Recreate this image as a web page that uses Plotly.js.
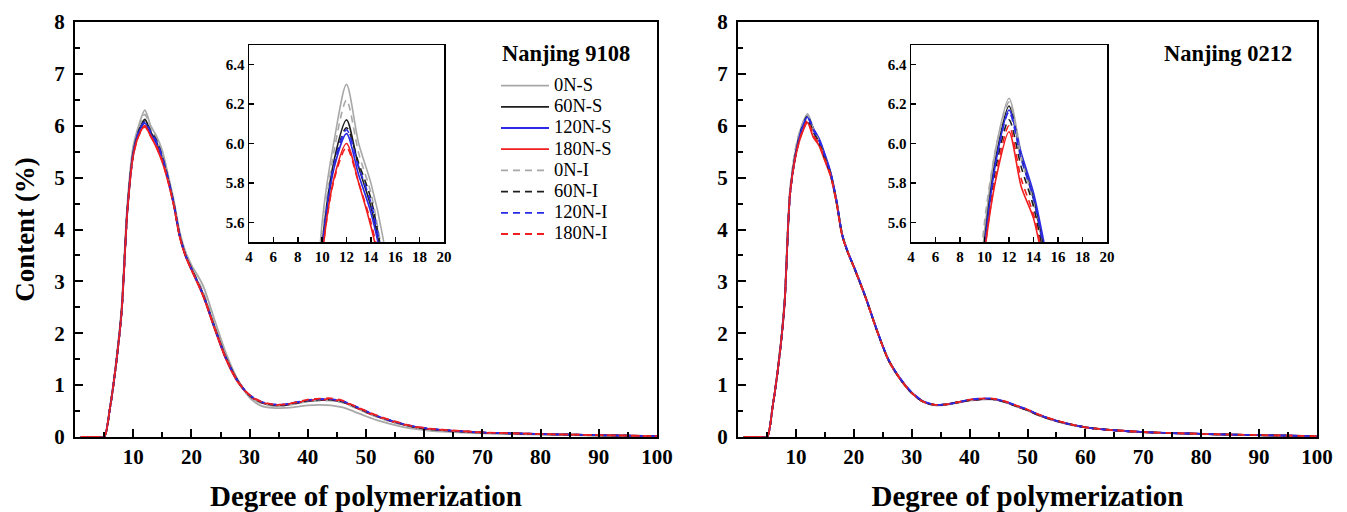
<!DOCTYPE html>
<html>
<head>
<meta charset="utf-8">
<script src="https://cdn.plot.ly/plotly-3.0.1.min.js"></script>
<style>html,body{margin:0;padding:0;background:#fff;}#chart{width:1347px;height:512px;}</style>
</head>
<body>
<div id="chart"></div>
<script>
// Degree of polymerization (shared x grid)
const DP = [1,2,3,4,5,6,7,8,9,10,11,12,13,14,15,16,17,18,19,20,22,24,26,28,30,32,34,36,38,40,42,44,46,48,50,52,55,58,61,65,70,75,80,85,90,95,100];

const seriesNames = ["0N-S","60N-S","120N-S","180N-S","0N-I","60N-I","120N-I","180N-I"];
const panelTitles = ["Nanjing 9108", "Nanjing 0212"];

// Nanjing 9108 (left panel)
const NJ9108_0NS   = [0,0,0,0,0,0.58,1.4,2.5,4.5,5.6,6.02,6.3,6.0,5.8,5.52,5.05,4.55,3.95,3.57,3.32,2.92,2.25,1.6,1.1,0.76,0.6,0.56,0.56,0.58,0.61,0.62,0.61,0.57,0.49,0.4,0.32,0.23,0.16,0.12,0.095,0.07,0.057,0.046,0.037,0.028,0.019,0.01];
const NJ9108_60NS  = [0,0,0,0,0,0.55,1.35,2.42,4.38,5.48,5.92,6.12,5.88,5.68,5.38,4.97,4.48,3.88,3.5,3.25,2.76,2.12,1.52,1.08,0.8,0.66,0.61,0.61,0.65,0.69,0.71,0.71,0.67,0.58,0.48,0.39,0.28,0.2,0.15,0.115,0.083,0.068,0.055,0.044,0.034,0.024,0.014];
const NJ9108_120NS = [0,0,0,0,0,0.55,1.35,2.4,4.36,5.45,5.88,6.05,5.84,5.65,5.37,4.96,4.47,3.87,3.5,3.24,2.74,2.1,1.5,1.07,0.8,0.67,0.62,0.62,0.66,0.7,0.72,0.72,0.68,0.59,0.49,0.4,0.29,0.2,0.15,0.12,0.085,0.07,0.057,0.045,0.035,0.025,0.015];
const NJ9108_180NS = [0,0,0,0,0,0.55,1.35,2.4,4.35,5.42,5.83,6.0,5.8,5.58,5.3,4.92,4.45,3.85,3.48,3.22,2.72,2.08,1.48,1.05,0.8,0.67,0.62,0.62,0.66,0.7,0.72,0.72,0.68,0.58,0.48,0.39,0.28,0.2,0.15,0.12,0.085,0.07,0.057,0.045,0.035,0.025,0.015];
const NJ9108_0NI   = [0,0,0,0,0,0.56,1.37,2.45,4.42,5.52,5.97,6.22,5.95,5.75,5.42,5.0,4.5,3.9,3.52,3.27,2.8,2.15,1.53,1.08,0.79,0.65,0.6,0.6,0.64,0.68,0.7,0.7,0.66,0.57,0.47,0.38,0.27,0.19,0.14,0.11,0.08,0.065,0.053,0.042,0.032,0.022,0.013];
const NJ9108_60NI  = [0,0,0,0,0,0.55,1.35,2.42,4.37,5.47,5.9,6.08,5.9,5.72,5.4,4.98,4.48,3.88,3.5,3.25,2.75,2.11,1.51,1.07,0.8,0.67,0.62,0.62,0.66,0.7,0.72,0.72,0.68,0.59,0.49,0.4,0.29,0.2,0.15,0.12,0.085,0.07,0.056,0.045,0.035,0.025,0.015];
const NJ9108_120NI = [0,0,0,0,0,0.55,1.35,2.4,4.36,5.47,5.9,6.07,5.88,5.7,5.4,4.98,4.48,3.88,3.5,3.24,2.74,2.1,1.5,1.07,0.81,0.68,0.63,0.63,0.67,0.71,0.73,0.73,0.69,0.6,0.5,0.4,0.29,0.21,0.16,0.12,0.088,0.071,0.057,0.046,0.035,0.025,0.015];
const NJ9108_180NI = [0,0,0,0,0,0.55,1.35,2.4,4.35,5.43,5.82,5.98,5.8,5.6,5.32,4.93,4.45,3.86,3.49,3.23,2.73,2.1,1.5,1.07,0.81,0.68,0.63,0.63,0.67,0.72,0.74,0.745,0.7,0.6,0.5,0.41,0.3,0.21,0.16,0.125,0.09,0.072,0.058,0.047,0.036,0.026,0.016];

// Nanjing 0212 (right panel)
const NJ0212_0NS   = [0,0,0,0,0,0.6,1.42,2.55,4.75,5.55,6.0,6.23,5.95,5.72,5.4,5.08,4.56,3.9,3.55,3.28,2.71,2.06,1.49,1.12,0.85,0.68,0.61,0.62,0.66,0.7,0.72,0.72,0.67,0.59,0.51,0.41,0.3,0.22,0.17,0.13,0.093,0.073,0.058,0.045,0.034,0.024,0.014];
const NJ0212_60NS  = [0,0,0,0,0,0.6,1.41,2.52,4.72,5.5,5.95,6.19,5.93,5.72,5.42,5.08,4.55,3.9,3.55,3.28,2.7,2.05,1.48,1.12,0.85,0.68,0.62,0.63,0.67,0.71,0.73,0.73,0.68,0.6,0.52,0.42,0.31,0.23,0.17,0.13,0.095,0.075,0.06,0.046,0.035,0.025,0.015];
const NJ0212_120NS = [0,0,0,0,0,0.6,1.4,2.5,4.7,5.47,5.93,6.17,5.95,5.75,5.45,5.1,4.57,3.9,3.56,3.29,2.71,2.06,1.49,1.13,0.86,0.69,0.62,0.63,0.67,0.71,0.73,0.73,0.68,0.6,0.52,0.42,0.31,0.23,0.17,0.13,0.095,0.075,0.06,0.046,0.035,0.025,0.015];
const NJ0212_180NS = [0,0,0,0,0,0.6,1.4,2.5,4.7,5.44,5.84,6.06,5.78,5.62,5.33,5.03,4.52,3.88,3.55,3.28,2.7,2.05,1.48,1.12,0.85,0.68,0.62,0.63,0.67,0.71,0.73,0.73,0.68,0.6,0.52,0.42,0.31,0.23,0.17,0.13,0.095,0.075,0.06,0.046,0.035,0.025,0.015];
const NJ0212_0NI   = [0,0,0,0,0,0.62,1.45,2.6,4.8,5.6,6.0,6.21,5.93,5.7,5.38,5.06,4.55,3.9,3.55,3.28,2.7,2.05,1.48,1.12,0.85,0.68,0.62,0.63,0.67,0.71,0.73,0.73,0.68,0.6,0.52,0.42,0.31,0.23,0.17,0.13,0.095,0.075,0.06,0.046,0.035,0.025,0.015];
const NJ0212_60NI  = [0,0,0,0,0,0.6,1.4,2.5,4.7,5.48,5.9,6.12,5.88,5.68,5.38,5.06,4.54,3.89,3.55,3.28,2.7,2.05,1.48,1.12,0.85,0.68,0.62,0.63,0.67,0.71,0.73,0.73,0.68,0.6,0.52,0.42,0.31,0.23,0.17,0.13,0.095,0.075,0.06,0.046,0.035,0.025,0.015];
const NJ0212_120NI = [0,0,0,0,0,0.6,1.4,2.5,4.7,5.48,5.93,6.16,5.92,5.72,5.42,5.08,4.56,3.9,3.56,3.29,2.71,2.06,1.49,1.13,0.86,0.69,0.62,0.63,0.67,0.72,0.74,0.74,0.69,0.61,0.53,0.43,0.31,0.23,0.17,0.13,0.096,0.076,0.06,0.047,0.036,0.025,0.015];
const NJ0212_180NI = [0,0,0,0,0,0.6,1.4,2.5,4.7,5.45,5.86,6.09,5.82,5.64,5.35,5.04,4.53,3.88,3.55,3.28,2.7,2.05,1.48,1.12,0.85,0.68,0.62,0.63,0.67,0.72,0.74,0.74,0.69,0.61,0.53,0.43,0.32,0.23,0.17,0.13,0.096,0.076,0.061,0.047,0.036,0.026,0.016];

const left  = [NJ9108_0NS, NJ9108_60NS, NJ9108_120NS, NJ9108_180NS, NJ9108_0NI, NJ9108_60NI, NJ9108_120NI, NJ9108_180NI];
const right = [NJ0212_0NS, NJ0212_60NS, NJ0212_120NS, NJ0212_180NS, NJ0212_0NI, NJ0212_60NI, NJ0212_120NI, NJ0212_180NI];

const colors = ["#a8a8a8","#1e1e1e","#2a2ae6","#f01e1e","#a8a8a8","#1e1e1e","#2a2ae6","#f01e1e"];
const dashes = ["solid","solid","solid","solid","7px,5px","7px,5px","7px,5px","7px,5px"];

const SERIF = "Liberation Serif, Times New Roman, serif";
const traces = [];
function addSet(data, xa, ya, legend, width) {
  data.forEach((ys, i) => {
    traces.push({
      x: DP, y: ys, type: "scatter", mode: "lines",
      name: '<span style="font-size:18.5px">' + seriesNames[i] + '</span>',
      xaxis: xa, yaxis: ya,
      showlegend: legend,
      line: {color: colors[i], dash: dashes[i], width: width, shape: "spline", smoothing: 0.8},
      hoverinfo: "skip"
    });
  });
}
addSet(left, "x", "y", true, 1.8);
addSet(left, "x3", "y3", false, 1.6);
addSet(right, "x2", "y2", false, 1.8);
addSet(right, "x4", "y4", false, 1.6);

const tickFontMain = {family: SERIF, size: 21, color: "#000", weight: "bold"};
const tickFontInset = {family: SERIF, size: 15, color: "#000", weight: "bold"};

function mainX(domain, anchor) {
  return {
    domain: domain, anchor: anchor, range: [0, 100],
    tickmode: "array", tickvals: [10,20,30,40,50,60,70,80,90,100],
    ticks: "inside", ticklen: 8, tickwidth: 2, tickcolor: "#000",
    minor: {tickmode: "linear", tick0: 0, dtick: 5, ticks: "inside", ticklen: 5, tickwidth: 2, tickcolor: "#000"},
    showline: true, linewidth: 2, linecolor: "#000", mirror: true,
    showgrid: false, zeroline: false, tickfont: tickFontMain,
    title: {text: "<b>Degree of polymerization</b>", font: {family: SERIF, size: 29, color: "#000"}, standoff: 17}
  };
}
function mainY(domain, anchor, title) {
  const ax = {
    domain: domain, anchor: anchor, range: [0, 8],
    tickmode: "linear", tick0: 0, dtick: 1,
    ticks: "inside", ticklen: 8, tickwidth: 2, tickcolor: "#000",
    minor: {tickmode: "linear", tick0: 0, dtick: 0.5, ticks: "inside", ticklen: 5, tickwidth: 2, tickcolor: "#000"},
    showline: true, linewidth: 2, linecolor: "#000", mirror: true,
    showgrid: false, zeroline: false, tickfont: tickFontMain, ticklabelstandoff: 4
  };
  if (title) ax.title = {text: "<b>" + title + "</b>", font: {family: SERIF, size: 27, color: "#000"}, standoff: 12};
  return ax;
}
function insetX(domain, anchor) {
  return {
    domain: domain, anchor: anchor, range: [4, 20],
    tickmode: "linear", tick0: 4, dtick: 2,
    ticks: "inside", ticklen: 5, tickwidth: 1.5, tickcolor: "#000",
    showline: true, linewidth: 1.5, linecolor: "#000", mirror: true,
    showgrid: false, zeroline: false, tickfont: tickFontInset
  };
}
function insetY(domain, anchor) {
  return {
    domain: domain, anchor: anchor, range: [5.5, 6.5],
    tickmode: "array", tickvals: [5.6, 5.8, 6.0, 6.2, 6.4], tickformat: ".1f",
    ticks: "inside", ticklen: 5, tickwidth: 1.5, tickcolor: "#000",
    showline: true, linewidth: 1.5, linecolor: "#000", mirror: true,
    showgrid: false, zeroline: false, tickfont: tickFontInset
  };
}

const W = 1347, H = 512;
const fx = p => p / W;
const fy = p => (H - p) / H;

function panelTitle(text, xc) {
  return {
    text: "<b>" + text + "</b>", xref: "paper", yref: "paper",
    x: fx(xc), y: fy(53), xanchor: "center", yanchor: "middle",
    showarrow: false, font: {family: SERIF, size: 22.5, color: "#000"}
  };
}

const layout = {
  width: W, height: H,
  margin: {l: 0, r: 0, t: 0, b: 0},
  paper_bgcolor: "#fff", plot_bgcolor: "rgba(0,0,0,0)",
  font: {family: SERIF, color: "#000"},
  xaxis:  mainX([fx(75), fx(657)], "y"),
  yaxis:  mainY([fy(437), fy(22)], "x", "Content (%)"),
  xaxis2: mainX([fx(738), fx(1317)], "y2"),
  yaxis2: mainY([fy(437), fy(22)], "x2", null),
  xaxis3: insetX([fx(249), fx(444)], "y3"),
  yaxis3: insetY([fy(242), fy(45)], "x3"),
  xaxis4: insetX([fx(911), fx(1107)], "y4"),
  yaxis4: insetY([fy(242), fy(45)], "x4"),
  showlegend: true,
  legend: {
    x: fx(496), y: fy(70), xanchor: "left", yanchor: "top",
    bgcolor: "rgba(0,0,0,0)", borderwidth: 0,
    font: {family: SERIF, size: 14, color: "#000"},
    tracegroupgap: 0, itemwidth: 48
  },
  annotations: [panelTitle(panelTitles[0], 566), panelTitle(panelTitles[1], 1228)]
};

Plotly.newPlot("chart", traces, layout, {displayModeBar: false, staticPlot: true});
</script>
</body>
</html>
